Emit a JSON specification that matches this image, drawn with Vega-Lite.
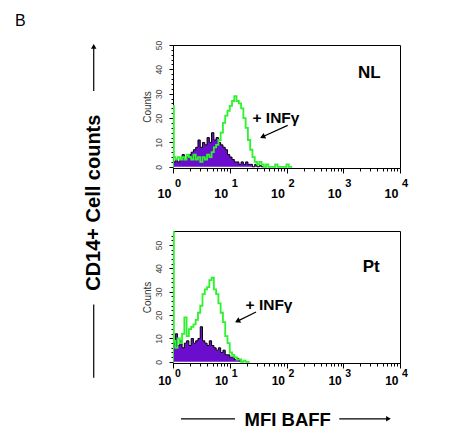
{
  "$schema": "https://vega.github.io/schema/vega-lite/v6.json",
  "padding": {"left": 14, "top": 12, "right": 5, "bottom": 5},
  "background": "white",
  "config": {
    "font": "Liberation Sans",
    "view": {"stroke": "black", "strokeWidth": 1},
    "axis": {"grid": false, "domainColor": "black", "tickColor": "black", "labelFont": "Liberation Sans", "titleFont": "Liberation Sans"}
  },
  "bounds": "flush",
  "spacing": 63,
  "datasets": {
    "topPurple": [
      {"L":0,"c":2},{"L":0.04,"c":3},{"L":0.08,"c":2},{"L":0.12,"c":3},{"L":0.16,"c":5},{"L":0.2,"c":3},{"L":0.24,"c":4},{"L":0.28,"c":5},{"L":0.32,"c":6},{"L":0.36,"c":7},{"L":0.4,"c":8},{"L":0.44,"c":11},{"L":0.48,"c":8},{"L":0.52,"c":10},{"L":0.56,"c":9},{"L":0.6,"c":12},{"L":0.64,"c":10},{"L":0.68,"c":14},{"L":0.72,"c":11},{"L":0.76,"c":12},{"L":0.8,"c":10},{"L":0.84,"c":9},{"L":0.88,"c":8},{"L":0.92,"c":7},{"L":0.96,"c":5},{"L":1.0,"c":4},{"L":1.04,"c":3},{"L":1.08,"c":2},{"L":1.12,"c":2},{"L":1.16,"c":1},{"L":1.2,"c":2},{"L":1.24,"c":1},{"L":1.28,"c":2},{"L":1.32,"c":1},{"L":1.36,"c":1},{"L":1.4,"c":0},{"L":1.44,"c":1},{"L":1.48,"c":0},{"L":1.52,"c":0.5},{"L":1.56,"c":0},{"L":1.6,"c":0}
    ],
    "topGreen": [
      {"L":-0.001,"c":0},{"L":0,"c":25},{"L":0.015,"c":4},{"L":0.04,"c":3},{"L":0.08,"c":4},{"L":0.12,"c":3},{"L":0.16,"c":4},{"L":0.2,"c":3},{"L":0.24,"c":5},{"L":0.28,"c":4},{"L":0.32,"c":3},{"L":0.36,"c":5},{"L":0.4,"c":3},{"L":0.44,"c":4},{"L":0.48,"c":2},{"L":0.52,"c":4},{"L":0.56,"c":3},{"L":0.6,"c":5},{"L":0.64,"c":4},{"L":0.68,"c":6},{"L":0.72,"c":8},{"L":0.76,"c":9},{"L":0.8,"c":11},{"L":0.84,"c":14},{"L":0.88,"c":18},{"L":0.92,"c":21},{"L":0.96,"c":23},{"L":1.0,"c":25},{"L":1.04,"c":27},{"L":1.08,"c":29},{"L":1.12,"c":27},{"L":1.16,"c":26},{"L":1.2,"c":24},{"L":1.24,"c":20},{"L":1.28,"c":16},{"L":1.32,"c":11},{"L":1.36,"c":7},{"L":1.4,"c":4},{"L":1.44,"c":2},{"L":1.48,"c":1},{"L":1.52,"c":2},{"L":1.56,"c":1},{"L":1.6,"c":0},{"L":1.64,"c":1},{"L":1.68,"c":0},{"L":1.8,"c":1},{"L":1.84,"c":0},{"L":2.0,"c":1},{"L":2.04,"c":0},{"L":2.1,"c":0}
    ],
    "botPurple": [
      {"L":0,"c":8},{"L":0.04,"c":12},{"L":0.08,"c":7},{"L":0.12,"c":9},{"L":0.16,"c":6},{"L":0.2,"c":8},{"L":0.24,"c":9},{"L":0.28,"c":7},{"L":0.32,"c":10},{"L":0.36,"c":8},{"L":0.4,"c":9},{"L":0.44,"c":10},{"L":0.48,"c":15},{"L":0.52,"c":9},{"L":0.56,"c":8},{"L":0.6,"c":7},{"L":0.64,"c":9},{"L":0.68,"c":7},{"L":0.72,"c":6},{"L":0.76,"c":5},{"L":0.8,"c":6},{"L":0.84,"c":4},{"L":0.88,"c":5},{"L":0.92,"c":3},{"L":0.96,"c":3},{"L":1.0,"c":2},{"L":1.04,"c":2},{"L":1.08,"c":1},{"L":1.12,"c":1.5},{"L":1.16,"c":0.5},{"L":1.2,"c":0}
    ],
    "botGreen": [
      {"L":-0.001,"c":0},{"L":0,"c":60},{"L":0.015,"c":9},{"L":0.04,"c":6},{"L":0.08,"c":10},{"L":0.12,"c":8},{"L":0.16,"c":12},{"L":0.2,"c":19},{"L":0.24,"c":11},{"L":0.28,"c":14},{"L":0.32,"c":15},{"L":0.36,"c":16},{"L":0.4,"c":18},{"L":0.44,"c":21},{"L":0.48,"c":24},{"L":0.52,"c":29},{"L":0.56,"c":31},{"L":0.6,"c":32},{"L":0.64,"c":35},{"L":0.68,"c":36},{"L":0.72,"c":31},{"L":0.76,"c":29},{"L":0.8,"c":25},{"L":0.84,"c":21},{"L":0.88,"c":17},{"L":0.92,"c":11},{"L":0.96,"c":8},{"L":1.0,"c":4},{"L":1.04,"c":3},{"L":1.08,"c":2},{"L":1.12,"c":1},{"L":1.16,"c":1},{"L":1.2,"c":0},{"L":1.24,"c":0.5},{"L":1.28,"c":0},{"L":1.35,"c":0}
    ]
  },
  "vconcat": [
    {
      "width": 227,
      "height": 123,
      "resolve": {"axis": {"x": "independent", "y": "independent"}},
      "layer": [
        {
          "data": {"name": "topPurple"},
          "mark": {"type": "area", "interpolate": "step-after", "color": "#6a0dcc", "clip": true},
          "encoding": {
            "x": {"field": "L", "type": "quantitative", "scale": {"domain": [0, 4], "nice": false, "zero": false},
              "axis": {"orient": "bottom", "title": null,
                "values": [0,0.301,0.477,0.602,0.699,0.778,0.845,0.903,0.954,1,1.301,1.477,1.602,1.699,1.778,1.845,1.903,1.954,2,2.301,2.477,2.602,2.699,2.778,2.845,2.903,2.954,3,3.301,3.477,3.602,3.699,3.778,3.845,3.903,3.954,4],
                "labelExpr": "datum.value % 1 === 0 ? '10' : ''",
                "tickSize": {"condition": {"test": "datum.value % 1 === 0", "value": 5}, "value": 3},
                "labelFontWeight": "bold", "labelFontSize": 12.5, "labelColor": "black",
                "labelAlign": "right", "labelBaseline": "top", "labelOffset": -2, "labelPadding": 14,
                "labelFlush": false, "labelOverlap": false, "labelBound": false}},
            "y": {"field": "c", "type": "quantitative", "scale": {"domain": [-0.5, 50], "nice": false, "zero": false},
              "axis": {"orient": "left", "title": "Counts", "titleFontSize": 10, "titleFontWeight": "normal", "titleColor": "#333", "titlePadding": 1.5,
                "values": [0,10,20,30,40,50], "tickSize": 4,
                "labelAngle": 270, "labelAlign": "center", "labelBaseline": "bottom", "labelPadding": 6,
                "labelFontSize": 8.5, "labelColor": "#444", "labelFlush": false, "labelOverlap": false}}
          }
        },
        {
          "data": {"name": "topPurple"},
          "mark": {"type": "line", "interpolate": "step-after", "color": "black", "strokeWidth": 1, "clip": true},
          "encoding": {
            "x": {"field": "L", "type": "quantitative", "scale": {"domain": [0, 4], "nice": false, "zero": false},
              "axis": {"orient": "bottom", "title": null, "values": [0,1,2,3,4], "labelExpr": "'' + datum.value",
                "ticks": false, "domain": false, "labelFontWeight": "bold", "labelFontSize": 11, "labelColor": "black",
                "labelAlign": "left", "labelBaseline": "top", "labelOffset": 1.5, "labelPadding": 9,
                "labelFlush": false, "labelOverlap": false, "labelBound": false}},
            "y": {"field": "c", "type": "quantitative", "scale": {"domain": [-0.5, 50], "nice": false, "zero": false},
              "axis": {"orient": "left", "title": null, "labels": false, "domain": false, "tickSize": 2,
                "values": [2,4,6,8,12,14,16,18,22,24,26,28,32,34,36,38,42,44,46,48]}}
          }
        },
        {
          "data": {"name": "topGreen"},
          "mark": {"type": "line", "interpolate": "step-after", "color": "#2df22d", "strokeWidth": 1.8, "clip": true},
          "encoding": {
            "x": {"field": "L", "type": "quantitative", "scale": {"domain": [0, 4], "nice": false, "zero": false}, "axis": null},
            "y": {"field": "c", "type": "quantitative", "scale": {"domain": [-0.5, 50], "nice": false, "zero": false}, "axis": null}
          }
        },
        {
          "data": {"values": [{"t": "NL", "L": 3.26, "c": 38.7}]},
          "mark": {"type": "text", "fontSize": 17, "fontWeight": "bold", "align": "left", "baseline": "middle", "color": "black"},
          "encoding": {
            "x": {"field": "L", "type": "quantitative", "scale": {"domain": [0, 4], "nice": false, "zero": false}, "axis": null},
            "y": {"field": "c", "type": "quantitative", "scale": {"domain": [-0.5, 50], "nice": false, "zero": false}, "axis": null},
            "text": {"field": "t"}
          }
        },
        {
          "data": {"values": [{"t": "+ INFγ", "L": 1.401, "c": 20.0}]},
          "mark": {"type": "text", "fontSize": 15.5, "fontWeight": "bold", "align": "left", "baseline": "middle", "color": "black"},
          "encoding": {
            "x": {"field": "L", "type": "quantitative", "scale": {"domain": [0, 4], "nice": false, "zero": false}, "axis": null},
            "y": {"field": "c", "type": "quantitative", "scale": {"domain": [-0.5, 50], "nice": false, "zero": false}, "axis": null},
            "text": {"field": "t"}
          }
        },
        {
          "data": {"values": [{"L": 2.021, "c": 17.0, "L2": 1.56, "c2": 12.1}]},
          "mark": {"type": "rule", "color": "black", "strokeWidth": 1.2},
          "encoding": {
            "x": {"field": "L", "type": "quantitative", "scale": {"domain": [0, 4], "nice": false, "zero": false}, "axis": null},
            "x2": {"field": "L2"},
            "y": {"field": "c", "type": "quantitative", "scale": {"domain": [-0.5, 50], "nice": false, "zero": false}, "axis": null},
            "y2": {"field": "c2"}
          }
        },
        {
          "data": {"values": [{"L": 1.577, "c": 12.3}]},
          "mark": {"type": "point", "shape": "triangle-up", "angle": 245, "size": 36, "filled": true, "color": "black", "opacity": 1},
          "encoding": {
            "x": {"field": "L", "type": "quantitative", "scale": {"domain": [0, 4], "nice": false, "zero": false}, "axis": null},
            "y": {"field": "c", "type": "quantitative", "scale": {"domain": [-0.5, 50], "nice": false, "zero": false}, "axis": null}
          }
        },
        {
          "data": {"values": [{"t": "B", "L": -2.784, "c": 63.1}]},
          "mark": {"type": "text", "fontSize": 16, "fontWeight": "normal", "align": "left", "baseline": "top", "color": "black"},
          "encoding": {
            "x": {"field": "L", "type": "quantitative", "scale": {"domain": [0, 4], "nice": false, "zero": false}, "axis": null},
            "y": {"field": "c", "type": "quantitative", "scale": {"domain": [-0.5, 50], "nice": false, "zero": false}, "axis": null},
            "text": {"field": "t"}
          }
        },
        {
          "data": {"values": [{"t": "CD14+ Cell counts", "L": -1.389, "c": -14.75}]},
          "mark": {"type": "text", "fontSize": 20, "fontWeight": "bold", "align": "center", "baseline": "middle", "angle": 270, "color": "black"},
          "encoding": {
            "x": {"field": "L", "type": "quantitative", "scale": {"domain": [0, 4], "nice": false, "zero": false}, "axis": null},
            "y": {"field": "c", "type": "quantitative", "scale": {"domain": [-0.5, 50], "nice": false, "zero": false}, "axis": null},
            "text": {"field": "t"}
          }
        },
        {
          "data": {"values": [{"L": -1.397, "c": 31.1, "c2": 49.6}, {"L": -1.397, "c": -56.5, "c2": -86.6}]},
          "mark": {"type": "rule", "color": "black", "strokeWidth": 1.2},
          "encoding": {
            "x": {"field": "L", "type": "quantitative", "scale": {"domain": [0, 4], "nice": false, "zero": false}, "axis": null},
            "y": {"field": "c", "type": "quantitative", "scale": {"domain": [-0.5, 50], "nice": false, "zero": false}, "axis": null},
            "y2": {"field": "c2"}
          }
        },
        {
          "data": {"values": [{"L": -1.397, "c": 49.4}]},
          "mark": {"type": "point", "shape": "triangle-up", "angle": 0, "size": 30, "filled": true, "color": "black", "opacity": 1},
          "encoding": {
            "x": {"field": "L", "type": "quantitative", "scale": {"domain": [0, 4], "nice": false, "zero": false}, "axis": null},
            "y": {"field": "c", "type": "quantitative", "scale": {"domain": [-0.5, 50], "nice": false, "zero": false}, "axis": null}
          }
        }
      ]
    },
    {
      "width": 227,
      "height": 132,
      "resolve": {"axis": {"x": "independent", "y": "independent"}},
      "layer": [
        {
          "data": {"name": "botPurple"},
          "mark": {"type": "area", "interpolate": "step-after", "color": "#6a0dcc", "clip": true},
          "encoding": {
            "x": {"field": "L", "type": "quantitative", "scale": {"domain": [0, 4], "nice": false, "zero": false},
              "axis": {"orient": "bottom", "title": null,
                "values": [0,0.301,0.477,0.602,0.699,0.778,0.845,0.903,0.954,1,1.301,1.477,1.602,1.699,1.778,1.845,1.903,1.954,2,2.301,2.477,2.602,2.699,2.778,2.845,2.903,2.954,3,3.301,3.477,3.602,3.699,3.778,3.845,3.903,3.954,4],
                "labelExpr": "datum.value % 1 === 0 ? '10' : ''",
                "tickSize": {"condition": {"test": "datum.value % 1 === 0", "value": 5}, "value": 3},
                "labelFontWeight": "bold", "labelFontSize": 12, "labelColor": "black",
                "labelAlign": "right", "labelBaseline": "top", "labelOffset": -2, "labelPadding": 7,
                "labelFlush": false, "labelOverlap": false, "labelBound": false}},
            "y": {"field": "c", "type": "quantitative", "scale": {"domain": [-0.5, 56], "nice": false, "zero": false},
              "axis": {"orient": "left", "title": "Counts", "titleFontSize": 10, "titleFontWeight": "normal", "titleColor": "#333", "titlePadding": 1.5,
                "values": [0,10,20,30,40,50], "tickSize": 4,
                "labelAngle": 270, "labelAlign": "center", "labelBaseline": "bottom", "labelPadding": 6,
                "labelFontSize": 8.5, "labelColor": "#444", "labelFlush": false, "labelOverlap": false}}
          }
        },
        {
          "data": {"name": "botPurple"},
          "mark": {"type": "line", "interpolate": "step-after", "color": "black", "strokeWidth": 1, "clip": true},
          "encoding": {
            "x": {"field": "L", "type": "quantitative", "scale": {"domain": [0, 4], "nice": false, "zero": false},
              "axis": {"orient": "bottom", "title": null, "values": [0,1,2,3,4], "labelExpr": "'' + datum.value",
                "ticks": false, "domain": false, "labelFontWeight": "bold", "labelFontSize": 10.5, "labelColor": "black",
                "labelAlign": "left", "labelBaseline": "top", "labelOffset": 1.5, "labelPadding": 5,
                "labelFlush": false, "labelOverlap": false, "labelBound": false}},
            "y": {"field": "c", "type": "quantitative", "scale": {"domain": [-0.5, 56], "nice": false, "zero": false},
              "axis": {"orient": "left", "title": null, "labels": false, "domain": false, "tickSize": 2,
                "values": [2,4,6,8,12,14,16,18,22,24,26,28,32,34,36,38,42,44,46,48,52,54]}}
          }
        },
        {
          "data": {"name": "botGreen"},
          "mark": {"type": "line", "interpolate": "step-after", "color": "#2df22d", "strokeWidth": 1.8, "clip": true},
          "encoding": {
            "x": {"field": "L", "type": "quantitative", "scale": {"domain": [0, 4], "nice": false, "zero": false}, "axis": null},
            "y": {"field": "c", "type": "quantitative", "scale": {"domain": [-0.5, 56], "nice": false, "zero": false}, "axis": null}
          }
        },
        {
          "data": {"values": [{"t": "Pt", "L": 3.343, "c": 40.6}]},
          "mark": {"type": "text", "fontSize": 17, "fontWeight": "bold", "align": "left", "baseline": "middle", "color": "black"},
          "encoding": {
            "x": {"field": "L", "type": "quantitative", "scale": {"domain": [0, 4], "nice": false, "zero": false}, "axis": null},
            "y": {"field": "c", "type": "quantitative", "scale": {"domain": [-0.5, 56], "nice": false, "zero": false}, "axis": null},
            "text": {"field": "t"}
          }
        },
        {
          "data": {"values": [{"t": "+ INFγ", "L": 1.278, "c": 24.5}]},
          "mark": {"type": "text", "fontSize": 15.5, "fontWeight": "bold", "align": "left", "baseline": "middle", "color": "black"},
          "encoding": {
            "x": {"field": "L", "type": "quantitative", "scale": {"domain": [0, 4], "nice": false, "zero": false}, "axis": null},
            "y": {"field": "c", "type": "quantitative", "scale": {"domain": [-0.5, 56], "nice": false, "zero": false}, "axis": null},
            "text": {"field": "t"}
          }
        },
        {
          "data": {"values": [{"L": 1.463, "c": 21.3, "L2": 1.12, "c2": 17.2}]},
          "mark": {"type": "rule", "color": "black", "strokeWidth": 1.2},
          "encoding": {
            "x": {"field": "L", "type": "quantitative", "scale": {"domain": [0, 4], "nice": false, "zero": false}, "axis": null},
            "x2": {"field": "L2"},
            "y": {"field": "c", "type": "quantitative", "scale": {"domain": [-0.5, 56], "nice": false, "zero": false}, "axis": null},
            "y2": {"field": "c2"}
          }
        },
        {
          "data": {"values": [{"L": 1.135, "c": 17.4}]},
          "mark": {"type": "point", "shape": "triangle-up", "angle": 244, "size": 36, "filled": true, "color": "black", "opacity": 1},
          "encoding": {
            "x": {"field": "L", "type": "quantitative", "scale": {"domain": [0, 4], "nice": false, "zero": false}, "axis": null},
            "y": {"field": "c", "type": "quantitative", "scale": {"domain": [-0.5, 56], "nice": false, "zero": false}, "axis": null}
          }
        },
        {
          "data": {"values": [{"t": "MFI BAFF", "L": 2.021, "c": -25.0}]},
          "mark": {"type": "text", "fontSize": 18.5, "fontWeight": "bold", "align": "center", "baseline": "middle", "color": "black"},
          "encoding": {
            "x": {"field": "L", "type": "quantitative", "scale": {"domain": [0, 4], "nice": false, "zero": false}, "axis": null},
            "y": {"field": "c", "type": "quantitative", "scale": {"domain": [-0.5, 56], "nice": false, "zero": false}, "axis": null},
            "text": {"field": "t"}
          }
        },
        {
          "data": {"values": [{"L": 0.141, "L2": 1.093, "c": -24.4}, {"L": 2.93, "L2": 3.79, "c": -24.4}]},
          "mark": {"type": "rule", "color": "black", "strokeWidth": 1.2},
          "encoding": {
            "x": {"field": "L", "type": "quantitative", "scale": {"domain": [0, 4], "nice": false, "zero": false}, "axis": null},
            "x2": {"field": "L2"},
            "y": {"field": "c", "type": "quantitative", "scale": {"domain": [-0.5, 56], "nice": false, "zero": false}, "axis": null}
          }
        },
        {
          "data": {"values": [{"L": 3.797, "c": -24.4}]},
          "mark": {"type": "point", "shape": "triangle-up", "angle": 90, "size": 30, "filled": true, "color": "black", "opacity": 1},
          "encoding": {
            "x": {"field": "L", "type": "quantitative", "scale": {"domain": [0, 4], "nice": false, "zero": false}, "axis": null},
            "y": {"field": "c", "type": "quantitative", "scale": {"domain": [-0.5, 56], "nice": false, "zero": false}, "axis": null}
          }
        }
      ]
    }
  ]
}
